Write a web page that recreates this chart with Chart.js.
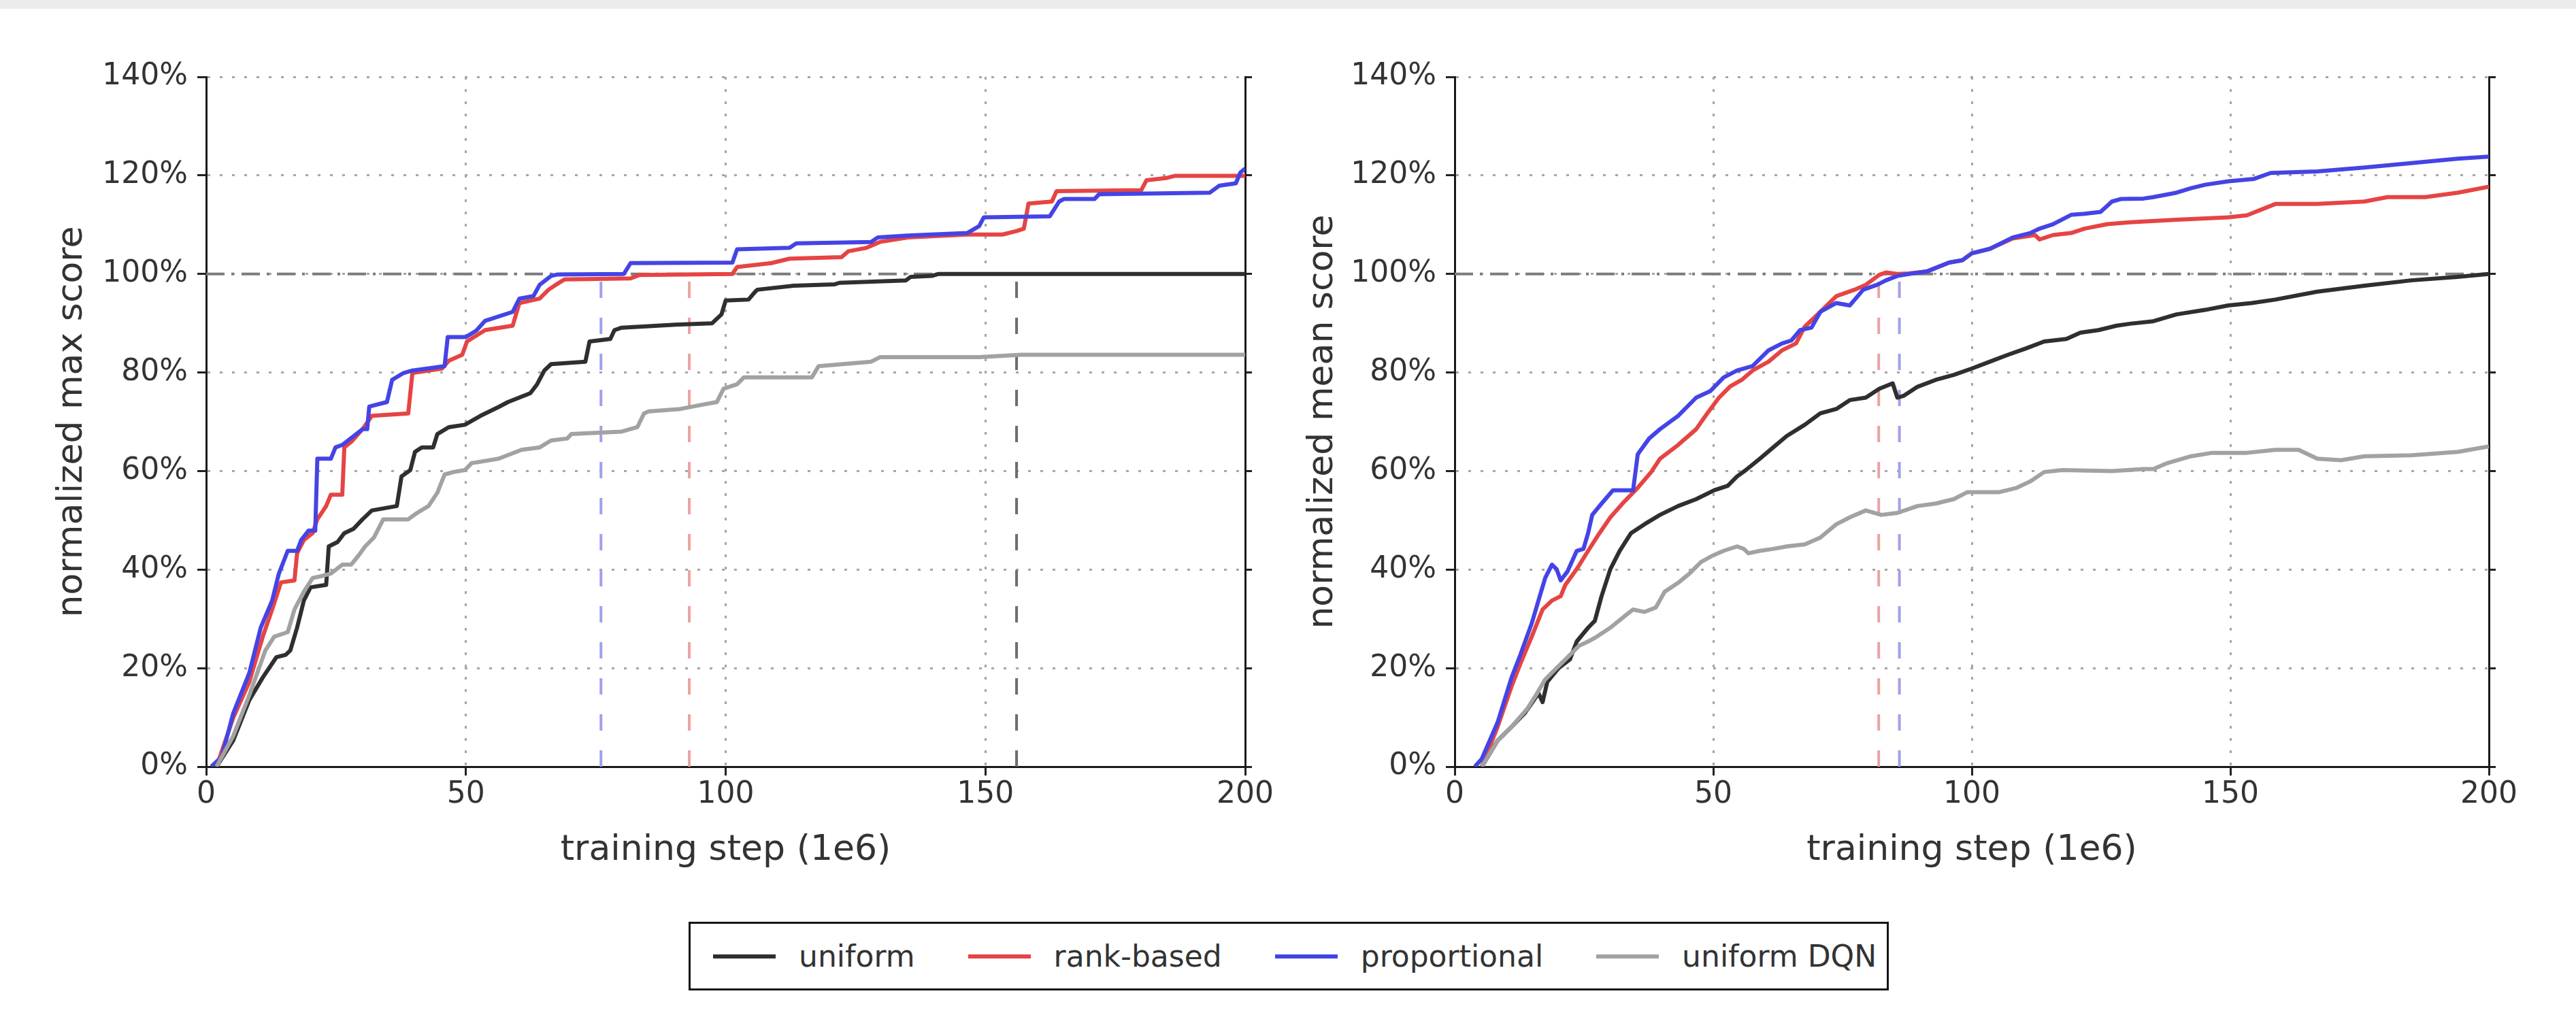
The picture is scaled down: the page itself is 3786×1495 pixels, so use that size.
<!DOCTYPE html>
<html>
<head>
<meta charset="utf-8">
<script src="https://cdn.jsdelivr.net/npm/chart.js@4.4.1/dist/chart.umd.min.js"></script>
<style>
  html, body { margin: 0; padding: 0; background: #ffffff; }
  body { width: 3786px; height: 1495px; position: relative; overflow: hidden; font-family: "DejaVu Sans", sans-serif; }
  #topband { position: absolute; left: 0; top: 0; width: 3786px; height: 13px; background: #ececec; }
  .panel { position: absolute; top: 0; width: 1900px; height: 1300px; }
  #legend { position: absolute; left: 1012px; top: 1355px; width: 1764px; height: 101px; box-sizing: border-box;
            border: 3px solid #151515; display: flex; align-items: center; padding-left: 33px; background: #fff;
            white-space: nowrap; }
  .item { display: flex; align-items: center; margin-right: 78px; flex-shrink: 0; }
  .swatch { width: 92px; height: 6px; margin-right: 34px; flex-shrink: 0; }
  .label { font-size: 44px; color: #333; line-height: 1; white-space: nowrap; }
</style>
</head>
<body>
<div id="topband"></div>
<div class="panel" style="left:0px"><canvas id="maxChart" width="1900" height="1300"></canvas></div>
<div class="panel" style="left:1835px"><canvas id="meanChart" width="1900" height="1300"></canvas></div>
<div id="legend"></div>
<script>
// ---- series labels and colours ----
const seriesNames  = ['uniform', 'rank-based', 'proportional', 'uniform DQN'];
const seriesColors = ['#2f2f2f', '#e64444', '#4444e6', '#a2a2a2'];

// ---- axis ticks ----
const xTicks = [0, 50, 100, 150, 200];
const yTicks = [0, 20, 40, 60, 80, 100, 120, 140];
const humanLevel = 100;

// ---- normalized max score: [training step (1e6), score %] ----
const maxUniform = [[2,0],[5.2,5.3],[8.3,13.5],[10.9,18.1],[13.5,22.2],[15.3,22.7],[16.2,23.6],[17.5,28.2],[18.8,33.7],[20.1,36.4],[23.1,36.9],[23.6,44.7],[25.3,45.6],[26.6,47.4],[28.4,48.3],[30.1,50.2],[31.9,52],[36.7,52.9],[37.6,58.9],[39.3,60.2],[40.2,63.9],[41.5,64.8],[43.7,64.8],[44.5,67.5],[46.7,68.9],[49.8,69.4],[52.8,71.2],[56.3,73],[58.1,74],[62.4,75.8],[63.7,77.6],[65.1,80.4],[66.4,81.7],[73,82.2],[73.8,86.3],[77.8,86.8],[78.6,88.6],[80,89.1],[90.4,89.7],[97.4,90],[99.2,91.8],[100,94.6],[104.4,94.8],[105.7,96.4],[106.1,96.8],[113.1,97.6],[121,97.9],[121.9,98.2],[134.7,98.7],[135.6,99.4],[139.7,99.6],[141,100],[200,100]];
const maxRank = [[2,0],[5.2,9.9],[8.3,17.2],[10.9,26.4],[12.7,31.9],[14.4,37.4],[17,37.8],[17.5,43.3],[18.8,46],[20.5,47.4],[21.4,50.2],[23.1,52.9],[24,55.2],[26.2,55.2],[26.6,64.8],[28,66],[30.1,68.5],[31.9,71.2],[38.9,71.7],[39.7,79.9],[45.4,80.8],[46.7,82.4],[49.3,83.6],[50.2,86.3],[53.7,88.6],[59,89.5],[60.3,94.1],[64.2,95],[65.9,96.8],[67.3,97.8],[69,98.9],[81.7,99.1],[83.4,99.8],[101.3,100],[102.2,101.4],[108.8,102.2],[112.3,103.1],[122.3,103.4],[123.6,104.6],[127.1,105.3],[129.7,106.5],[135.1,107.4],[146.5,108],[153.3,108],[156,108.7],[157.4,109.2],[158.3,114.3],[162.8,114.7],[163.7,116.8],[180,117],[181,119],[185,119.5],[186.4,119.9],[200,119.9]];
const maxProportional = [[1,0],[3,2],[5.2,10.8],[8.3,19],[10.5,28.2],[12.7,33.7],[14,39.2],[15.7,43.8],[17.5,43.8],[18.3,46],[19.7,47.9],[21,47.9],[21.4,62.5],[24,62.5],[24.9,64.8],[26.2,65.3],[28.4,67.1],[30.1,68.5],[31,68.5],[31.4,73.1],[34.8,74],[35.8,78.5],[38,79.9],[39.7,80.4],[45.9,81.3],[46.5,87.2],[50,87.2],[52,88.5],[53.7,90.5],[59,92.3],[60.3,95],[63,95.5],[64.2,97.8],[66.4,99.6],[67.7,99.9],[80.4,100],[81.7,102.2],[101.3,102.3],[102.2,105],[112.3,105.3],[113.6,106.2],[128,106.5],[129.3,107.4],[135.1,107.8],[146.5,108.3],[148.8,109.7],[149.7,111.5],[162.4,111.7],[164.2,114.7],[165.1,115.2],[171,115.2],[171.9,116.2],[193.2,116.5],[195,117.9],[198.2,118.4],[199.1,120.6],[200,121.4]];
const maxDQN = [[2,0],[5.2,6.2],[8.3,14.5],[11.4,23.6],[13.1,26.4],[15.7,27.3],[17,31.9],[17.9,33.7],[18.8,35.5],[20.5,38.3],[22.3,38.7],[24,39.2],[26.2,41],[27.9,41],[29.3,42.8],[30.6,44.7],[32.3,46.5],[34.1,50.2],[38.9,50.2],[40.6,51.5],[42.8,52.9],[44.5,55.6],[45.9,59.3],[47.6,59.8],[49.8,60.2],[51.1,61.6],[56.3,62.5],[60.7,64.3],[64.2,64.8],[66.4,66.2],[69.5,66.6],[70.3,67.5],[80,68],[83,68.9],[84.3,71.7],[85.2,72.1],[91.3,72.6],[95.7,73.5],[98.3,74],[99.6,76.7],[102.2,77.6],[103.5,79],[116.6,79],[117.9,81.3],[128,82.2],[129.7,83.1],[148.8,83.1],[156.9,83.6],[200,83.6]];

// ---- normalized mean score ----
const meanUniform = [[5.25,0],[8.3,5.3],[11,8.1],[13.5,10.8],[15.3,13.5],[16.2,14.9],[17,13.1],[17.9,17.2],[20.1,20],[22.3,21.8],[23.6,25.4],[25.8,28.2],[27.1,29.6],[28.4,34.6],[30.1,40.1],[31.9,43.8],[34.1,47.4],[36.7,49.2],[39.7,51.1],[43.2,52.9],[46.7,54.3],[50.2,56.1],[52.8,57],[54.6,58.9],[56.3,60.2],[59,62.5],[61.6,64.8],[64.2,67.1],[67.7,69.4],[70.7,71.7],[73.8,72.6],[76.4,74.4],[79.5,74.9],[82.1,76.7],[84.7,77.8],[85.6,74.9],[86.9,75.3],[89.5,77.1],[93,78.5],[96.5,79.5],[100,80.8],[103.5,82.2],[107,83.6],[110.5,84.9],[114,86.3],[118.3,86.8],[121,88.1],[124.5,88.6],[128,89.5],[130.6,89.9],[135.1,90.4],[139.6,91.8],[145.1,92.7],[149.6,93.6],[154.1,94.1],[158.7,94.8],[166.8,96.4],[175.9,97.6],[185,98.7],[194,99.4],[200,100]];
const meanRank = [[5.25,0],[8.3,8.1],[11,16.3],[12.7,20.9],[14.9,26.4],[17,31.9],[18.8,33.7],[20.5,34.6],[21.4,36.9],[23.6,40.1],[25.8,43.8],[28,47.4],[30.1,50.6],[32.8,53.8],[35.4,56.6],[38,59.8],[39.7,62.5],[43.2,65.3],[46.7,68.5],[48.5,71.2],[51.1,74.9],[53.3,77.2],[55.5,78.5],[57.6,80.4],[60.7,82.2],[63.3,84.5],[66,85.9],[67.7,89.3],[70.7,92.3],[73.8,95.5],[77.3,96.8],[79.5,97.8],[82.1,99.8],[83.4,100.3],[85.6,100],[87.8,100.1],[91.3,100.5],[95.6,102.3],[98.2,102.8],[100,104.2],[103.5,105.1],[107.9,107.2],[112.2,107.9],[113.1,107],[115.7,107.9],[119.2,108.3],[121.8,109.2],[126.2,110.1],[130.6,110.5],[139.6,111],[149.6,111.5],[153.2,111.9],[158.7,114.2],[166.8,114.2],[175.9,114.7],[180.4,115.6],[187.7,115.6],[194,116.5],[200,117.7]];
const meanProportional = [[3.9,0],[5.25,1.6],[8.3,9],[11,18.1],[12.7,22.7],[14.9,29.1],[16.2,33.7],[17.5,38.3],[18.8,41],[19.7,40.1],[20.5,37.8],[21.8,39.6],[23.6,43.8],[24.9,44.2],[25.8,47.4],[26.6,51.1],[28.4,53.4],[30.6,56.1],[34.5,56.1],[35.4,63.4],[37.6,66.6],[39.7,68.5],[43.2,71.2],[46.7,74.9],[49.4,76.2],[52,79],[54.6,80.4],[57.6,81.3],[60.7,84.5],[63.3,85.9],[65.1,86.5],[66.8,88.6],[69,89.1],[70.7,92.3],[73.8,94.1],[76.4,93.6],[79,96.8],[81.7,97.8],[83.4,98.7],[85.6,99.6],[87.8,100],[91.3,100.5],[95.6,102.3],[98.2,102.8],[100,104.2],[103.5,105.1],[107.9,107.4],[111.3,108.3],[113.1,109.2],[115.7,110.1],[119.2,112],[121.8,112.2],[124.9,112.6],[127.1,114.7],[128.8,115.2],[133.2,115.3],[135.1,115.6],[139.6,116.5],[142.4,117.4],[145.1,118.1],[149.6,118.8],[154.6,119.3],[157.8,120.5],[166.8,120.8],[175.9,121.6],[185,122.5],[194,123.4],[200,123.8]];
const meanDQN = [[5.25,0],[8.3,5.3],[11,8.1],[14,11.7],[15.7,14.5],[17.5,17.7],[19.7,20],[22.3,22.7],[24,24.5],[25.8,25.4],[27.5,26.4],[30.1,28.2],[32.8,30.5],[34.5,31.9],[36.7,31.4],[38.9,32.3],[40.6,35.5],[43.2,37.3],[45.4,39.2],[47.6,41.5],[49.8,42.8],[52,43.8],[54.6,44.7],[55.9,44.2],[56.8,43.3],[59,43.8],[61.6,44.2],[64.2,44.7],[67.7,45.1],[70.7,46.5],[73.8,49.2],[76.4,50.6],[79.5,52],[82.5,51.1],[85.6,51.5],[89.5,52.9],[93,53.4],[96.5,54.3],[99.1,55.7],[105.2,55.7],[108.7,56.6],[111.3,57.9],[114,59.8],[117.5,60.2],[127.1,60],[133.2,60.4],[135.1,60.4],[137.8,61.6],[142.4,63],[146.5,63.7],[153.2,63.7],[158.7,64.3],[163.2,64.3],[166.8,62.5],[171.4,62.2],[175.9,63],[185,63.2],[194,63.9],[200,65]];

// ---- step at which each method first reaches human level ----
const maxCrossSteps  = [156, 93, 76];          // uniform, rank-based, proportional
const maxCrossColors = ['#6e6e6e', '#eba2a2', '#a0a0ea'];
const meanCrossSteps  = [82, 86];              // rank-based, proportional
const meanCrossColors = ['#eba2a2', '#a0a0ea'];

Chart.defaults.font.family = '"DejaVu Sans", sans-serif';
Chart.defaults.color = '#333';

const toXY = pairs => pairs.map(([x, y]) => ({ x, y }));

function buildDatasets(series, crossSteps, crossColors) {
  const sets = [];
  // curves: later entries are drawn on top
  series.forEach((pairs, i) => {
    sets.push({
      label: seriesNames[i], data: toXY(pairs), borderColor: seriesColors[i],
      borderWidth: 6, pointRadius: 0, tension: 0, order: 4 - i,
      borderJoinStyle: 'round', borderCapStyle: 'butt'
    });
  });
  // human-level reference line
  sets.push({
    label: 'human level', data: [{ x: 0, y: humanLevel }, { x: 200, y: humanLevel }],
    borderColor: '#7c7c7c', borderWidth: 4, borderDash: [27, 10, 4, 11],
    pointRadius: 0, order: 20
  });
  // vertical dashed markers where curves reach human level
  crossSteps.forEach((s, i) => {
    sets.push({
      label: 'cross ' + s, data: [{ x: s, y: 0 }, { x: s, y: humanLevel }],
      borderColor: crossColors[i], borderWidth: 4, borderDash: [24, 29],
      pointRadius: 0, order: 10 + i
    });
  });
  return sets;
}

function buildChart(canvasId, yTitle, series, crossSteps, crossColors, padRight, titlePad) {
  const gridStyle = { color: '#a6a6a6', lineWidth: 3, drawTicks: true, tickLength: 13, tickColor: '#222', tickWidth: 3 };
  return new Chart(document.getElementById(canvasId), {
    type: 'line',
    data: { datasets: buildDatasets(series, crossSteps, crossColors) },
    options: {
      responsive: false, animation: false, events: [],
      layout: { padding: { left: 0, top: 113, right: padRight, bottom: 0 } },
      plugins: { legend: { display: false }, tooltip: { enabled: false } },
      scales: {
        x: {
          type: 'linear', position: 'bottom', min: 0, max: 200,
          afterBuildTicks: s => { s.ticks = xTicks.map(v => ({ value: v })); },
          afterFit: s => { s.height = 173; },
          grid: gridStyle,
          border: { display: true, color: '#1a1a1a', width: 3, dash: [4, 14] },
          ticks: { font: { size: 44 }, color: '#333', padding: 2, maxRotation: 0 },
          title: { display: true, text: 'training step (1e6)', font: { size: 52 }, color: '#333', padding: { top: 0, bottom: 18 } }
        },
        y: {
          type: 'linear', position: 'left', min: 0, max: 140,
          afterBuildTicks: s => { s.ticks = yTicks.map(v => ({ value: v })); },
          afterFit: s => { s.width = 303; },
          grid: gridStyle,
          border: { display: true, color: '#1a1a1a', width: 3, dash: [4, 14] },
          ticks: { font: { size: 44 }, color: '#333', padding: 14, callback: v => v + '%' },
          title: { display: true, text: yTitle, font: { size: 52 }, color: '#333', padding: { top: titlePad, bottom: 0 } }
        },
        yRight: {
          type: 'linear', position: 'right', min: 0, max: 140,
          afterBuildTicks: s => { s.ticks = yTicks.map(v => ({ value: v })); },
          afterFit: s => { s.width = 14; },
          grid: { drawOnChartArea: false, drawTicks: true, tickLength: 10, tickColor: '#222', tickWidth: 3, color: '#222' },
          border: { display: true, color: '#1a1a1a', width: 3 },
          ticks: { display: false }
        }
      }
    }
  });
}

buildChart('maxChart', 'normalized max score',
  [maxUniform, maxRank, maxProportional, maxDQN], maxCrossSteps, maxCrossColors, 56, 75);
buildChart('meanChart', 'normalized mean score',
  [meanUniform, meanRank, meanProportional, meanDQN], meanCrossSteps, meanCrossColors, 63, 78);

// shared legend below both panels
const legend = document.getElementById('legend');
seriesNames.forEach((name, i) => {
  const item = document.createElement('div');
  item.className = 'item';
  const sw = document.createElement('div');
  sw.className = 'swatch';
  sw.style.background = seriesColors[i];
  const lb = document.createElement('div');
  lb.className = 'label';
  lb.textContent = name;
  item.appendChild(sw);
  item.appendChild(lb);
  legend.appendChild(item);
});
</script>
</body>
</html>
